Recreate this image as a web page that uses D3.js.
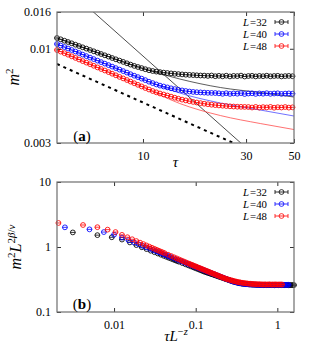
<!DOCTYPE html>
<html><head><meta charset="utf-8">
<script src="https://cdn.jsdelivr.net/npm/d3@7"></script>
<style>
body{margin:0;background:#fff;}
svg text{font-family:"Liberation Serif","DejaVu Serif",serif;fill:#000;}
</style></head><body>
<svg id="c" width="317" height="346"></svg>
<script>
// ---------- data ----------
const sizes = [32, 40, 48];
const colors = ["#000000", "#0000ff", "#ff0000"];
const fitColors = ["#333333", "#4d4dff", "#ff4d4d"];
const zExp = 1.0;          // dynamic exponent used in panel (b)
const twoBetaNu = 1.04;    // 2beta/nu used in panel (b)

const tau = [0.1,0.2,0.3,0.4,0.5,0.6,0.7,0.8,0.9,1.0,1.1,1.2,1.3,1.4,1.5,1.6,1.7,1.8,1.9,2.0,2.2,2.4,2.6,2.8,3.0,3.2,3.4,3.6,3.8,
4.0,4.16,4.33,4.5,4.68,4.87,5.06,5.26,5.47,5.69,5.92,6.16,6.4,6.66,6.93,7.2,7.49,7.79,8.1,8.43,8.76,9.11,9.48,9.86,10.25,10.66,11.09,11.53,11.99,12.47,12.97,13.49,14.03,14.59,15.17,15.78,16.41,17.07,17.75,18.46,19.2,19.97,20.77,21.6,22.46,23.36,24.29,25.26,26.27,27.32,28.42,29.55,30.74,31.97,33.24,34.57,35.96,37.4,38.89,40.45,42.06,43.75,45.5,47.32,49.21,51.18,53.22,55.0];

const m2L32 = [0.0456,0.0414,0.0384,0.0354,0.0320,0.0291,0.02696,0.02525,0.02384,0.02264,0.0216,0.02071,0.0199,0.0192,0.01856,0.01799,0.01746,0.01697,0.01653,0.01612,0.01538,0.01474,0.01417,0.01367,0.01322,0.0128,0.01243,0.01208,0.01177,
0.011477,0.011288,0.011086,0.010904,0.010724,0.010534,0.010360,0.010189,0.010022,0.009845,
0.009683,0.009512,0.009354,0.009200,0.009047,0.008888,0.008742,0.008597,0.008455,0.008306,
0.008169,0.008035,0.007922,0.007812,0.007703,0.007604,0.007527,0.007470,0.007422,0.007375,
0.007338,0.007300,0.007264,0.007236,0.007208,0.007180,0.007162,0.007144,0.007126,0.007107,
0.007098,0.007070,0.007107,0.007043,0.007079,0.007034,0.007089,0.007025,0.007070,0.007052,
0.007098,0.007016,0.007061,0.007079,0.007025,0.007070,0.007043,0.007089,0.007034,0.007061,
0.007079,0.007025,0.007052,0.007070,0.007043,0.007061,0.007070,0.007052];

const m2L40 = [0.0433,0.0403,0.0366,0.0334,0.0301,0.02745,0.02541,0.02377,0.02241,0.02126,0.02027,0.01941,0.01865,0.01797,0.01735,0.01681,0.0163,0.01584,0.01542,0.01503,0.01433,0.01372,0.01318,0.01271,0.01228,0.01188,0.01153,0.01121,0.01091,
0.010629,0.010427,0.010228,0.010035,0.009845,0.009658,0.009475,0.009283,0.009105,0.008932,
0.008764,0.008597,0.008434,0.008274,0.008117,0.007963,0.007812,0.007664,0.007518,0.007375,
0.007226,0.007089,0.006963,0.006830,0.006700,0.006565,0.006449,0.006341,0.006245,0.006174,
0.006104,0.006034,0.005972,0.005919,0.005874,0.005829,0.005792,0.005762,0.005740,0.005726,
0.005711,0.005696,0.005689,0.005682,
0.005660,0.005624,0.005668,0.005617,0.005653,0.005632,0.005675,0.005610,0.005646,0.005660,
0.005617,0.005653,0.005632,0.005668,0.005624,0.005646,0.005660,0.005617,0.005639,0.005653,
0.005632,0.005646,0.005639,0.005653];

const m2L48 = [0.0418,0.0389,0.0360,0.0330,0.0303,0.02742,0.02523,0.02348,0.02203,0.02081,0.01977,0.01886,0.01806,0.01735,0.01672,0.01615,0.01562,0.01515,0.01471,0.01432,0.01359,0.01297,0.01242,0.01194,0.0115,0.01108,0.01074,0.01042,0.01012,
0.009845,0.009646,0.009451,0.009271,0.009082,0.008898,0.008719,0.008542,0.008380,0.008211,
0.008045,0.007882,0.007723,0.007575,0.007422,0.007272,0.007126,0.006980,0.006848,0.006709,
0.006573,0.006440,0.006309,0.006182,0.006057,0.005942,0.005829,0.005733,0.005646,0.005574,
0.005503,0.005426,0.005351,0.005283,0.005222,0.005169,0.005117,0.005071,0.005032,0.004993,
0.004955,0.004924,0.004893,0.004868,0.004849,0.004831,0.004812,0.004794,0.004781,0.004769,0.004763,0.004757,
0.004751,0.004721,0.004757,0.004715,0.004745,0.004727,0.004757,0.004709,0.004739,0.004721,0.004751,0.004715,0.004733,0.004727,0.004739,0.004721];

// fitted curves (panel a)
const fitTau = [4, 6.3, 10, 14.8, 22.8, 34.9, 50];
const fitL32 = [0.011477, 0.009415, 0.007772, 0.006796, 0.006096, 0.005718, 0.005399];
const fitL40 = [0.010629, 0.008499, 0.006752, 0.005682, 0.005000, 0.004572, 0.004235];
const fitL48 = [0.009845, 0.007772, 0.006135, 0.004968, 0.004262, 0.003848, 0.003563];
// guide power laws (panel a)
const guideTau = [4, 50];
const steepLine = [0.0242, 0.00164];
const dashLine = [0.00823, 0.00212];

const xTicksA = [10, 30, 50];
const yTicksA = [0.003, 0.01, 0.016];
const xTicksB = [0.01, 0.1, 1];
const yTicksB = [0.1, 1, 10];

// ---------- drawing ----------
const svg = d3.select("#c");
const L = 57, R = 294;
const panelA = {top: 12, bottom: 143};
const panelB = {top: 182, bottom: 312};

const xA = d3.scaleLog().domain([4, 50]).range([L, R]);
const yA = d3.scaleLog().domain([0.003, 0.016]).range([panelA.bottom, panelA.top]);
const xB = d3.scaleLog().domain([0.002, 1.6]).range([L, R]);
const yB = d3.scaleLog().domain([0.1, 10]).range([panelB.bottom, panelB.top]);

const series = [m2L32, m2L40, m2L48];
const fits = [fitL32, fitL40, fitL48];

const dfs = svg.append("defs");
dfs.append("clipPath").attr("id","clipA").append("rect")
  .attr("x",L).attr("y",panelA.top).attr("width",R-L).attr("height",panelA.bottom-panelA.top);

function axes(x, y, p, xt, yt, xfmt, yfmt){
  const g = svg.append("g").attr("class","axes");
  const sty = sel => {
    sel.select(".domain").remove();
    sel.selectAll(".tick line").attr("stroke","#000").attr("stroke-width",0.8);
    sel.selectAll(".tick text").attr("font-size",12).attr("fill","#000")
      .attr("font-family","Liberation Serif, DejaVu Serif, serif");
  };
  g.append("g").attr("transform",`translate(0,${p.bottom})`)
    .call(d3.axisBottom(x).tickValues(xt).tickFormat(xfmt).tickSizeInner(-4).tickSizeOuter(0).tickPadding(8)).call(sty);
  g.append("g").attr("transform",`translate(0,${p.top})`)
    .call(d3.axisTop(x).tickValues(xt).tickFormat("").tickSizeInner(-4).tickSizeOuter(0)).call(sty);
  g.append("g").attr("transform",`translate(${L},0)`)
    .call(d3.axisLeft(y).tickValues(yt).tickFormat(yfmt).tickSizeInner(-4).tickSizeOuter(0).tickPadding(6)).call(sty);
  g.append("g").attr("transform",`translate(${R},0)`)
    .call(d3.axisRight(y).tickValues(yt).tickFormat("").tickSizeInner(-4).tickSizeOuter(0)).call(sty);
  g.append("rect").attr("x",L).attr("y",p.top).attr("width",R-L).attr("height",p.bottom-p.top)
    .attr("fill","none").attr("stroke","#6e6e6e").attr("stroke-width",1.2);
}

function markers(g, pts, color){
  const m = g.append("g");
  m.selectAll("circle").data(pts).join("circle")
    .attr("cx",d=>d[0]).attr("cy",d=>d[1]).attr("r",2.4)
    .attr("fill","none").attr("stroke",color).attr("stroke-width",0.85);
  m.selectAll("line").data(pts).join("line")
    .attr("x1",d=>d[0]-2.6).attr("x2",d=>d[0]+2.6).attr("y1",d=>d[1]).attr("y2",d=>d[1])
    .attr("stroke",color).attr("stroke-width",0.8);
}

// ----- panel (a) -----
const gA = svg.append("g");
const lineA = d3.line().x(d=>xA(d[0])).y(d=>yA(d[1]));
const clipA = gA.append("g").attr("clip-path","url(#clipA)");
clipA.append("path").datum(guideTau.map((t,i)=>[t,steepLine[i]])).attr("d",lineA)
  .attr("fill","none").attr("stroke","#000").attr("stroke-width",0.7);
clipA.append("path").datum(guideTau.map((t,i)=>[t,dashLine[i]])).attr("d",lineA)
  .attr("fill","none").attr("stroke","#000").attr("stroke-width",2).attr("stroke-dasharray","3,4");
const fitLine = d3.line().x(d=>xA(d[0])).y(d=>yA(d[1])).curve(d3.curveMonotoneX);
fits.forEach((f,k)=>{
  clipA.append("path").datum(fitTau.map((t,i)=>[t,f[i]])).attr("d",fitLine)
    .attr("fill","none").attr("stroke",fitColors[k]).attr("stroke-width",0.8);
});
series.forEach((s,k)=>{
  const pts = tau.map((t,i)=>[t,s[i]]).filter(d=>d[0]>=4 && d[0]<=50)
    .map(d=>[xA(d[0]), yA(d[1])]);
  markers(gA, pts, colors[k]);
});
axes(xA, yA, panelA, xTicksA, yTicksA, d=>String(d), d=>String(d));

// ----- panel (b) -----
const gB = svg.append("g");
series.forEach((s,k)=>{
  const Ls = sizes[k];
  const pts = tau.map((t,i)=>[t/Math.pow(Ls,zExp), s[i]*Math.pow(Ls,twoBetaNu)])
    .filter(d=>d[0]>=0.002 && d[0]<=1.6)
    .map(d=>[xB(d[0]), yB(d[1])]);
  markers(gB, pts, colors[k]);
});
axes(xB, yB, panelB, xTicksB, yTicksB, d=>String(d), d=>String(d));

// ----- legends -----
function legend(y0){
  sizes.forEach((s,k)=>{
    const y = y0 + k*12;
    const num = svg.append("text").attr("x",267).attr("y",y+3.8).attr("text-anchor","end")
      .attr("font-size",10.8).text("="+s);
    const w = num.node().getComputedTextLength();
    svg.append("text").attr("x",267-w-1).attr("y",y+3.8).attr("text-anchor","end")
      .attr("font-size",10.8).attr("font-style","italic").text("L");
    const c = colors[k];
    svg.append("line").attr("x1",275).attr("x2",288).attr("y1",y).attr("y2",y).attr("stroke",c).attr("stroke-width",0.8);
    svg.append("line").attr("x1",275).attr("x2",275).attr("y1",y-2).attr("y2",y+2).attr("stroke",c).attr("stroke-width",0.8);
    svg.append("line").attr("x1",288).attr("x2",288).attr("y1",y-2).attr("y2",y+2).attr("stroke",c).attr("stroke-width",0.8);
    svg.append("circle").attr("cx",281.5).attr("cy",y).attr("r",2.4).attr("fill","none").attr("stroke",c).attr("stroke-width",0.8);
  });
}
legend(22);
legend(192);

// ----- labels -----
function panelTag(x,y,ch){
  const t = svg.append("text").attr("x",x).attr("y",y).attr("text-anchor","middle").attr("font-size",15);
  t.append("tspan").text("(");
  t.append("tspan").attr("font-weight","bold").text(ch);
  t.append("tspan").text(")");
}
panelTag(82, 141, "a");
panelTag(82, 309, "b");

const yla = svg.append("text").attr("transform","translate(19,77) rotate(-90)").attr("text-anchor","middle").attr("font-size",16);
yla.append("tspan").attr("font-style","italic").text("m");
yla.append("tspan").attr("font-size",11).attr("dy",-6).text("2");

svg.append("text").attr("x",175.5).attr("y",167).attr("text-anchor","middle").attr("font-size",15)
  .attr("font-style","italic").text("τ");

const ylb = svg.append("text").attr("transform","translate(21,247) rotate(-90)").attr("text-anchor","middle").attr("font-size",16);
ylb.append("tspan").attr("font-style","italic").text("m");
ylb.append("tspan").attr("font-size",11).attr("dy",-6).text("2");
ylb.append("tspan").attr("font-style","italic").attr("dy",6).text("L");
const sup = ylb.append("tspan").attr("font-size",11).attr("dy",-6);
sup.append("tspan").text("2");
sup.append("tspan").attr("font-style","italic").text("β");
sup.append("tspan").text("/");
sup.append("tspan").attr("font-style","italic").text("ν");

const xlb = svg.append("text").attr("x",176).attr("y",341).attr("text-anchor","middle").attr("font-size",15);
xlb.append("tspan").attr("font-style","italic").text("τL");
const sb = xlb.append("tspan").attr("font-size",10.5).attr("dy",-6);
sb.append("tspan").text("−");
sb.append("tspan").attr("font-style","italic").text("z");
</script>
</body></html>
